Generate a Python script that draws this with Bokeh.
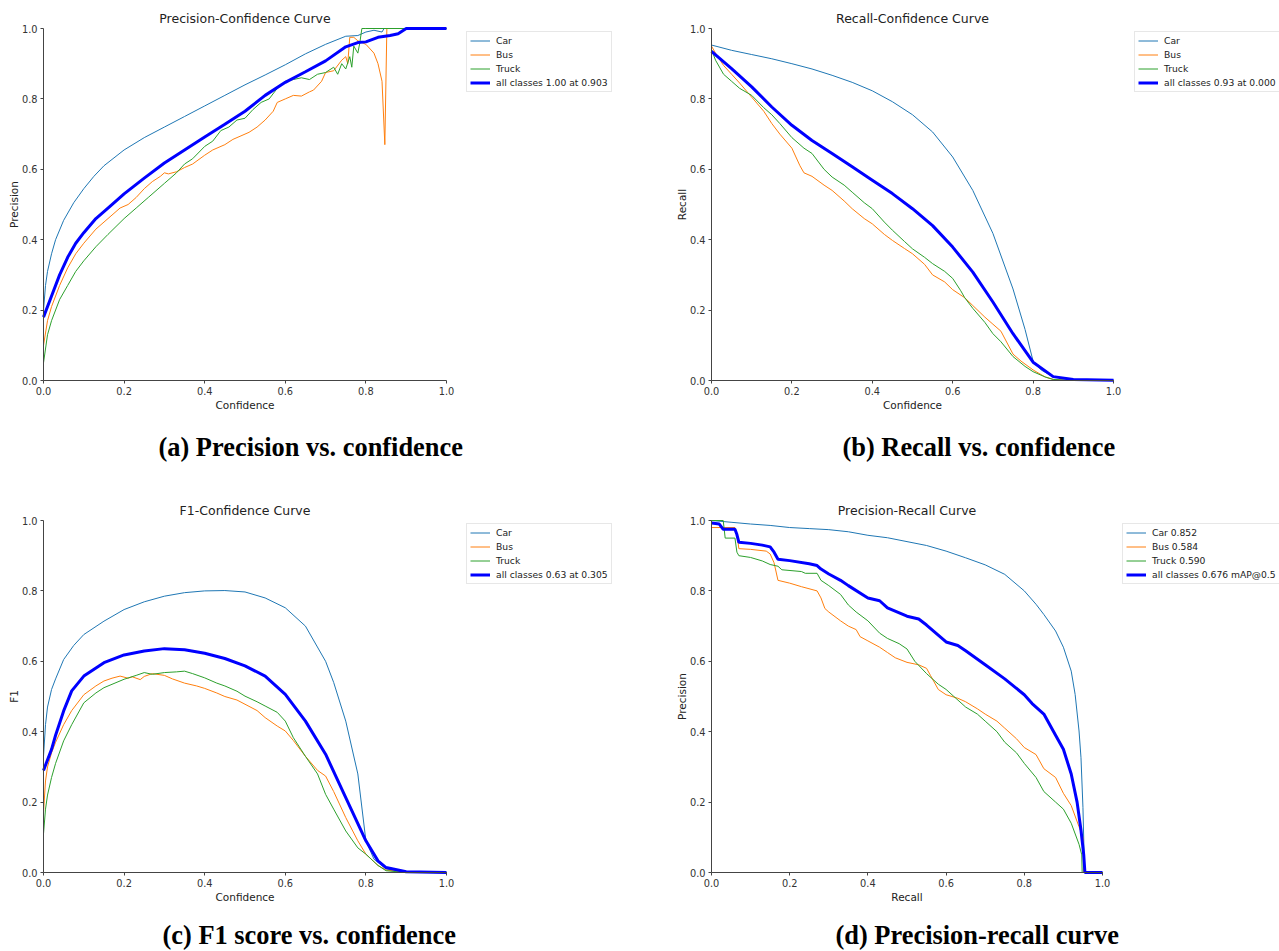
import math
from bokeh.plotting import figure
from bokeh.models import (Range1d, FixedTicker, NumeralTickFormatter, Legend,
                          LegendItem)
from bokeh.core.properties import value
from bokeh.layouts import column, row
from bokeh.embed import file_html
from bokeh.resources import INLINE

# ---------------- data ----------------
classes = ["Car", "Bus", "Truck"]
colors = ["#1f77b4", "#ff7f0e", "#2ca02c"]
all_color = "#0000ff"
ticks = [0.0, 0.2, 0.4, 0.6, 0.8, 1.0]

# (a) Precision vs confidence
p_car_x = [0, 0.005, 0.01, 0.02, 0.03, 0.05, 0.075, 0.1, 0.125, 0.15, 0.2, 0.25, 0.3, 0.35, 0.4, 0.45, 0.5, 0.55, 0.6, 0.65, 0.7, 0.75, 0.78, 0.8, 0.82, 0.84, 0.845, 0.85, 0.9, 1.0]
p_car_y = [0.2, 0.27, 0.31, 0.36, 0.4, 0.455, 0.505, 0.545, 0.58, 0.61, 0.655, 0.69, 0.72, 0.75, 0.78, 0.81, 0.84, 0.868, 0.897, 0.928, 0.955, 0.978, 0.98, 0.99, 0.995, 0.99, 1.0, 1.0, 1.0, 1.0]
p_bus_x = [0, 0.01, 0.02, 0.04, 0.06, 0.08, 0.1, 0.13, 0.16, 0.19, 0.21, 0.23, 0.25, 0.27, 0.29, 0.3, 0.31, 0.33, 0.35, 0.37, 0.4, 0.42, 0.45, 0.47, 0.49, 0.51, 0.53, 0.55, 0.57, 0.58, 0.6, 0.62, 0.64, 0.66, 0.67, 0.69, 0.7, 0.72, 0.74, 0.75, 0.755, 0.76, 0.77, 0.78, 0.8, 0.82, 0.83, 0.84, 0.847, 0.852, 0.9, 1.0]
p_bus_y = [0.1, 0.17, 0.21, 0.27, 0.32, 0.36, 0.39, 0.43, 0.46, 0.49, 0.5, 0.52, 0.545, 0.565, 0.58, 0.59, 0.587, 0.593, 0.605, 0.615, 0.64, 0.655, 0.67, 0.685, 0.695, 0.705, 0.72, 0.74, 0.765, 0.79, 0.8, 0.81, 0.808, 0.82, 0.825, 0.85, 0.875, 0.88, 0.91, 0.92, 0.9, 0.975, 0.975, 0.965, 0.955, 0.93, 0.9, 0.85, 0.67, 1.0, 1.0, 1.0]
p_truck_x = [0, 0.01, 0.02, 0.04, 0.06, 0.08, 0.1, 0.13, 0.16, 0.2, 0.23, 0.26, 0.3, 0.33, 0.35, 0.37, 0.4, 0.42, 0.44, 0.46, 0.48, 0.5, 0.52, 0.54, 0.56, 0.58, 0.6, 0.62, 0.64, 0.66, 0.68, 0.7, 0.72, 0.73, 0.74, 0.75, 0.76, 0.765, 0.77, 0.78, 0.785, 0.79, 0.8, 0.9, 1.0]
p_truck_y = [0.05, 0.13, 0.17, 0.23, 0.27, 0.31, 0.34, 0.38, 0.415, 0.46, 0.49, 0.52, 0.56, 0.59, 0.615, 0.63, 0.665, 0.68, 0.71, 0.72, 0.74, 0.745, 0.77, 0.79, 0.8, 0.83, 0.85, 0.855, 0.86, 0.855, 0.87, 0.875, 0.89, 0.87, 0.9, 0.885, 0.92, 0.89, 0.95, 0.93, 0.96, 1.0, 1.0, 1.0, 1.0]
p_all_x = [0, 0.02, 0.04, 0.06, 0.08, 0.1, 0.13, 0.16, 0.2, 0.25, 0.3, 0.35, 0.4, 0.45, 0.5, 0.55, 0.6, 0.65, 0.7, 0.75, 0.78, 0.8, 0.83, 0.86, 0.88, 0.9, 1.0]
p_all_y = [0.18, 0.24, 0.3, 0.35, 0.39, 0.42, 0.46, 0.49, 0.53, 0.575, 0.618, 0.655, 0.692, 0.728, 0.765, 0.81, 0.847, 0.877, 0.908, 0.948, 0.96, 0.962, 0.975, 0.98, 0.985, 1.0, 1.0]

# (b) Recall vs confidence
r_car_x = [0, 0.05, 0.1, 0.15, 0.2, 0.25, 0.3, 0.35, 0.4, 0.45, 0.5, 0.55, 0.6, 0.65, 0.7, 0.75, 0.78, 0.8, 0.82, 0.85, 0.9, 1.0]
r_car_y = [0.953, 0.938, 0.926, 0.914, 0.9, 0.885, 0.867, 0.847, 0.823, 0.792, 0.755, 0.706, 0.635, 0.54, 0.418, 0.26, 0.145, 0.055, 0.03, 0.01, 0.003, 0.002]
r_bus_x = [0, 0.01, 0.03, 0.05, 0.07, 0.1, 0.13, 0.15, 0.17, 0.2, 0.21, 0.22, 0.23, 0.25, 0.28, 0.3, 0.33, 0.35, 0.38, 0.4, 0.43, 0.45, 0.48, 0.5, 0.53, 0.55, 0.58, 0.6, 0.63, 0.65, 0.68, 0.7, 0.72, 0.75, 0.77, 0.8, 0.83, 0.85, 0.9, 1.0]
r_bus_y = [0.95, 0.93, 0.895, 0.87, 0.845, 0.805, 0.765, 0.73, 0.7, 0.66, 0.635, 0.61, 0.59, 0.58, 0.555, 0.54, 0.51, 0.488, 0.46, 0.445, 0.415, 0.398, 0.375, 0.36, 0.33, 0.3, 0.28, 0.258, 0.235, 0.213, 0.18, 0.16, 0.14, 0.075, 0.055, 0.03, 0.01, 0.003, 0.0, 0.0]
r_truck_x = [0, 0.01, 0.03, 0.05, 0.07, 0.1, 0.13, 0.15, 0.17, 0.2, 0.23, 0.25, 0.28, 0.3, 0.33, 0.35, 0.38, 0.4, 0.43, 0.45, 0.48, 0.5, 0.53, 0.55, 0.58, 0.6, 0.62, 0.63, 0.65, 0.68, 0.7, 0.72, 0.75, 0.78, 0.8, 0.83, 0.85, 0.9, 1.0]
r_truck_y = [0.94, 0.91, 0.87, 0.85, 0.83, 0.81, 0.775, 0.755, 0.73, 0.69, 0.66, 0.645, 0.6, 0.578, 0.555, 0.535, 0.505, 0.488, 0.45, 0.427, 0.395, 0.374, 0.35, 0.332, 0.31, 0.29, 0.255, 0.235, 0.205, 0.165, 0.133, 0.11, 0.068, 0.04, 0.025, 0.01, 0.003, 0.0, 0.0]
r_all_x = [0, 0.05, 0.1, 0.15, 0.2, 0.25, 0.3, 0.35, 0.4, 0.45, 0.5, 0.55, 0.6, 0.65, 0.7, 0.75, 0.8, 0.85, 0.9, 1.0]
r_all_y = [0.935, 0.886, 0.834, 0.777, 0.725, 0.682, 0.645, 0.607, 0.569, 0.531, 0.488, 0.44, 0.379, 0.308, 0.223, 0.133, 0.052, 0.011, 0.003, 0.001]

# (c) F1 vs confidence
f_car_x = [0, 0.005, 0.01, 0.02, 0.03, 0.05, 0.075, 0.1, 0.15, 0.2, 0.25, 0.3, 0.35, 0.4, 0.45, 0.5, 0.55, 0.6, 0.65, 0.7, 0.72, 0.75, 0.78, 0.8, 0.82, 0.85, 0.9, 1.0]
f_car_y = [0.33, 0.42, 0.47, 0.52, 0.55, 0.605, 0.645, 0.676, 0.714, 0.747, 0.769, 0.785, 0.795, 0.8, 0.801, 0.797, 0.78, 0.752, 0.7, 0.6, 0.54, 0.43, 0.28, 0.09, 0.038, 0.01, 0.002, 0.0]
f_bus_x = [0, 0.005, 0.01, 0.02, 0.03, 0.05, 0.07, 0.1, 0.13, 0.15, 0.17, 0.19, 0.21, 0.22, 0.24, 0.25, 0.27, 0.3, 0.32, 0.35, 0.38, 0.4, 0.43, 0.45, 0.48, 0.5, 0.53, 0.55, 0.58, 0.6, 0.62, 0.65, 0.68, 0.7, 0.72, 0.75, 0.78, 0.8, 0.83, 0.85, 0.9, 1.0]
f_bus_y = [0.17, 0.26, 0.3, 0.34, 0.37, 0.42, 0.46, 0.505, 0.53, 0.544, 0.552, 0.558, 0.552, 0.556, 0.548, 0.557, 0.565, 0.56, 0.55, 0.538, 0.53, 0.523, 0.51, 0.5, 0.49, 0.478, 0.46, 0.44, 0.416, 0.402, 0.375, 0.33, 0.29, 0.274, 0.23, 0.156, 0.09, 0.052, 0.02, 0.007, 0.001, 0.0]
f_truck_x = [0, 0.005, 0.01, 0.02, 0.03, 0.05, 0.07, 0.1, 0.13, 0.15, 0.2, 0.23, 0.25, 0.27, 0.3, 0.33, 0.35, 0.37, 0.4, 0.43, 0.45, 0.48, 0.5, 0.53, 0.55, 0.58, 0.6, 0.62, 0.65, 0.68, 0.7, 0.72, 0.75, 0.78, 0.8, 0.83, 0.85, 0.9, 1.0]
f_truck_y = [0.11, 0.18, 0.22, 0.27, 0.31, 0.374, 0.42, 0.482, 0.51, 0.525, 0.549, 0.56, 0.568, 0.563, 0.568, 0.57, 0.572, 0.565, 0.553, 0.538, 0.53, 0.515, 0.501, 0.485, 0.473, 0.455, 0.43, 0.383, 0.33, 0.28, 0.222, 0.18, 0.118, 0.07, 0.052, 0.02, 0.005, 0.0, 0.0]
f_all_x = [0, 0.01, 0.02, 0.03, 0.05, 0.07, 0.1, 0.15, 0.2, 0.25, 0.3, 0.35, 0.4, 0.45, 0.5, 0.55, 0.6, 0.65, 0.7, 0.75, 0.8, 0.83, 0.85, 0.9, 1.0]
f_all_y = [0.29, 0.32, 0.35, 0.39, 0.459, 0.516, 0.558, 0.596, 0.618, 0.629, 0.636, 0.633, 0.623, 0.608, 0.587, 0.558, 0.506, 0.43, 0.336, 0.213, 0.09, 0.033, 0.014, 0.002, 0.0]

# (d) Precision vs recall
pr_car_x = [0, 0.05, 0.1, 0.15, 0.2, 0.25, 0.3, 0.35, 0.4, 0.45, 0.5, 0.55, 0.6, 0.65, 0.7, 0.75, 0.8, 0.83, 0.85, 0.88, 0.9, 0.92, 0.93, 0.94, 0.945, 0.95, 0.953, 0.955, 1.0]
pr_car_y = [1.0, 0.995, 0.99, 0.986, 0.98, 0.977, 0.974, 0.968, 0.958, 0.951, 0.94, 0.929, 0.913, 0.894, 0.874, 0.847, 0.8, 0.762, 0.733, 0.686, 0.64, 0.572, 0.506, 0.402, 0.326, 0.185, 0.05, 0.0, 0.0]
pr_bus_x = [0, 0.06, 0.065, 0.07, 0.1, 0.14, 0.15, 0.16, 0.17, 0.2, 0.23, 0.27, 0.28, 0.29, 0.3, 0.33, 0.35, 0.37, 0.38, 0.4, 0.43, 0.45, 0.47, 0.5, 0.53, 0.55, 0.56, 0.58, 0.6, 0.63, 0.65, 0.68, 0.7, 0.73, 0.75, 0.78, 0.8, 0.83, 0.85, 0.88, 0.9, 0.92, 0.94, 0.95, 0.952, 1.0]
pr_bus_y = [0.98, 0.98, 0.96, 0.92, 0.918, 0.913, 0.905, 0.88, 0.83, 0.822, 0.812, 0.8, 0.78, 0.75, 0.74, 0.715, 0.7, 0.69, 0.67, 0.658, 0.64, 0.625, 0.61, 0.597, 0.59, 0.58, 0.56, 0.52, 0.505, 0.495, 0.485, 0.465, 0.45, 0.43, 0.41, 0.38, 0.355, 0.335, 0.295, 0.27, 0.225, 0.19, 0.13, 0.1, 0.0, 0.0]
pr_truck_x = [0, 0.03, 0.035, 0.06, 0.065, 0.07, 0.1, 0.13, 0.15, 0.17, 0.18, 0.23, 0.24, 0.27, 0.28, 0.3, 0.33, 0.35, 0.37, 0.4, 0.43, 0.45, 0.48, 0.5, 0.52, 0.55, 0.58, 0.6, 0.62, 0.65, 0.68, 0.7, 0.73, 0.75, 0.78, 0.8, 0.83, 0.85, 0.88, 0.9, 0.92, 0.94, 0.947, 0.948, 1.0]
pr_truck_y = [1.0, 1.0, 0.95, 0.95, 0.91, 0.9, 0.895, 0.885, 0.875, 0.87, 0.86, 0.855, 0.85, 0.85, 0.83, 0.815, 0.79, 0.76, 0.74, 0.715, 0.68, 0.665, 0.65, 0.635, 0.6, 0.565, 0.535, 0.52, 0.5, 0.47, 0.45, 0.43, 0.4, 0.37, 0.34, 0.31, 0.27, 0.23, 0.2, 0.18, 0.14, 0.08, 0.05, 0.0, 0.0]
pr_all_x = [0, 0.02, 0.03, 0.06, 0.065, 0.07, 0.1, 0.13, 0.15, 0.16, 0.17, 0.2, 0.25, 0.27, 0.28, 0.3, 0.33, 0.35, 0.4, 0.43, 0.45, 0.5, 0.53, 0.55, 0.6, 0.63, 0.65, 0.7, 0.75, 0.8, 0.82, 0.85, 0.88, 0.9, 0.92, 0.935, 0.945, 0.952, 0.955, 1.0]
pr_all_y = [0.993, 0.99, 0.975, 0.975, 0.96, 0.938, 0.935, 0.93, 0.925, 0.91, 0.89, 0.886, 0.877, 0.872, 0.862, 0.848, 0.83, 0.815, 0.78, 0.772, 0.752, 0.728, 0.72, 0.703, 0.655, 0.645, 0.63, 0.59, 0.55, 0.505, 0.48, 0.45, 0.39, 0.35, 0.28, 0.2, 0.12, 0.05, 0.0, 0.0]

panels = [
    dict(title="Precision-Confidence Curve", xlabel="Confidence", ylabel="Precision",
         caption="(a) Precision vs. confidence", cap_offset=115, cap_dy=66,
         series=[(p_car_x, p_car_y), (p_bus_x, p_bus_y), (p_truck_x, p_truck_y)],
         all=(p_all_x, p_all_y), labels=["Car", "Bus", "Truck", "all classes 1.00 at 0.903"],
         width=668, height=492, unit_px=403, legend_dx=20),
    dict(title="Recall-Confidence Curve", xlabel="Confidence", ylabel="Recall",
         caption="(b) Recall vs. confidence", cap_offset=131, cap_dy=66,
         series=[(r_car_x, r_car_y), (r_bus_x, r_bus_y), (r_truck_x, r_truck_y)],
         all=(r_all_x, r_all_y), labels=["Car", "Bus", "Truck", "all classes 0.93 at 0.000"],
         width=611, height=492, unit_px=402, legend_dx=21),
    dict(title="F1-Confidence Curve", xlabel="Confidence", ylabel="F1",
         caption="(c) F1 score vs. confidence", cap_offset=119, cap_dy=62,
         series=[(f_car_x, f_car_y), (f_bus_x, f_bus_y), (f_truck_x, f_truck_y)],
         all=(f_all_x, f_all_y), labels=["Car", "Bus", "Truck", "all classes 0.63 at 0.305"],
         width=668, height=459, unit_px=403, legend_dx=20),
    dict(title="Precision-Recall Curve", xlabel="Recall", ylabel="Precision",
         caption="(d) Precision-recall curve", cap_offset=124, cap_dy=62,
         series=[(pr_car_x, pr_car_y), (pr_bus_x, pr_bus_y), (pr_truck_x, pr_truck_y)],
         all=(pr_all_x, pr_all_y), labels=["Car 0.852", "Bus 0.584", "Truck 0.590", "all classes 0.676 mAP@0.5"],
         width=611, height=459, unit_px=391, legend_dx=20),
]

FONT = "DejaVu Sans"
AXIS_H = 352          # pixel height of the 0..1 span of the y axis
LEFT = 43             # pixels left of x = 0
TOP = 28              # pixels above y = 1
TITLE_DY = 10         # px above y=1 where the plot title sits
XLABEL_DY = 24        # px below y=0 where the x-axis label sits
YLABEL_DX = 30        # px left of x=0 where the y-axis label sits


def make(cfg):
    w, h, u = cfg["width"], cfg["height"], cfg["unit_px"]
    below_px = h - TOP - AXIS_H
    x0 = -LEFT / u
    x1 = (w - LEFT) / u
    y0 = -below_px / AXIS_H
    y1 = 1 + TOP / AXIS_H
    p = figure(width=w, height=h, output_backend="svg", toolbar_location=None,
               title=None, x_range=Range1d(x0, x1), y_range=Range1d(y0, y1),
               min_border_left=0, min_border_right=0,
               min_border_top=0, min_border_bottom=0)
    p.outline_line_color = None
    p.grid.visible = False
    p.background_fill_color = "white"
    p.border_fill_color = "white"
    for ax in (p.xaxis[0], p.yaxis[0]):
        ax.ticker = FixedTicker(ticks=ticks)
        ax.formatter = NumeralTickFormatter(format="0.0")
        ax.bounds = (0, 1)
        ax.fixed_location = 0
        ax.minor_tick_line_color = None
        ax.major_tick_in = 0
        ax.major_tick_out = 3
        ax.major_tick_line_color = "#444444"
        ax.axis_line_color = "#444444"
        ax.major_label_text_font = FONT
        ax.major_label_text_font_size = "9.8px"
        ax.major_label_text_color = "#333333"
        ax.major_label_standoff = 3

    rends = []
    for (xs, ys), c in zip(cfg["series"], colors):
        rends.append(p.line(xs, ys, line_color=c, line_width=1))
    ax_, ay_ = cfg["all"]
    rends.append(p.line(ax_, ay_, line_color=all_color, line_width=3))

    # plot title, axis labels and sub-figure caption, placed around the axes
    p.text(x=[0.5], y=[1 + TITLE_DY / AXIS_H], text=[cfg["title"]],
           text_font=value(FONT), text_font_size="12.5px", text_color="#222222",
           text_align="center", text_baseline="middle")
    p.text(x=[0.5], y=[-XLABEL_DY / AXIS_H], text=[cfg["xlabel"]],
           text_font=value(FONT), text_font_size="10.5px", text_color="#222222",
           text_align="center", text_baseline="middle")
    p.text(x=[-YLABEL_DX / u], y=[0.5], text=[cfg["ylabel"]], angle=math.pi / 2,
           text_font=value(FONT), text_font_size="10.5px", text_color="#222222",
           text_align="center", text_baseline="middle")
    p.text(x=[cfg["cap_offset"] / u], y=[-cfg["cap_dy"] / AXIS_H], text=[cfg["caption"]],
           text_font=value("Liberation Serif"), text_font_size="26.4px",
           text_font_style="bold", text_color="black",
           text_align="left", text_baseline="middle")

    leg_h = 59
    legend = Legend(items=[LegendItem(label=l, renderers=[r]) for l, r in zip(cfg["labels"], rends)],
                    location=(LEFT + u + cfg["legend_dx"], h - TOP - 5 - leg_h))
    legend.label_text_font = FONT
    legend.label_text_font_size = "9.2px"
    legend.label_text_color = "#222222"
    legend.glyph_width = 20
    legend.glyph_height = 11
    legend.label_height = 11
    legend.label_standoff = 6
    legend.spacing = 3
    legend.padding = 3
    legend.margin = 0
    legend.border_line_color = "#d0d0d0"
    legend.border_line_width = 1
    legend.background_fill_alpha = 1.0
    p.add_layout(legend)
    return p


figs = [make(c) for c in panels]
layout = column(row(figs[0], figs[1]), row(figs[2], figs[3]))
open("out.html", "w").write(file_html(layout, INLINE))
